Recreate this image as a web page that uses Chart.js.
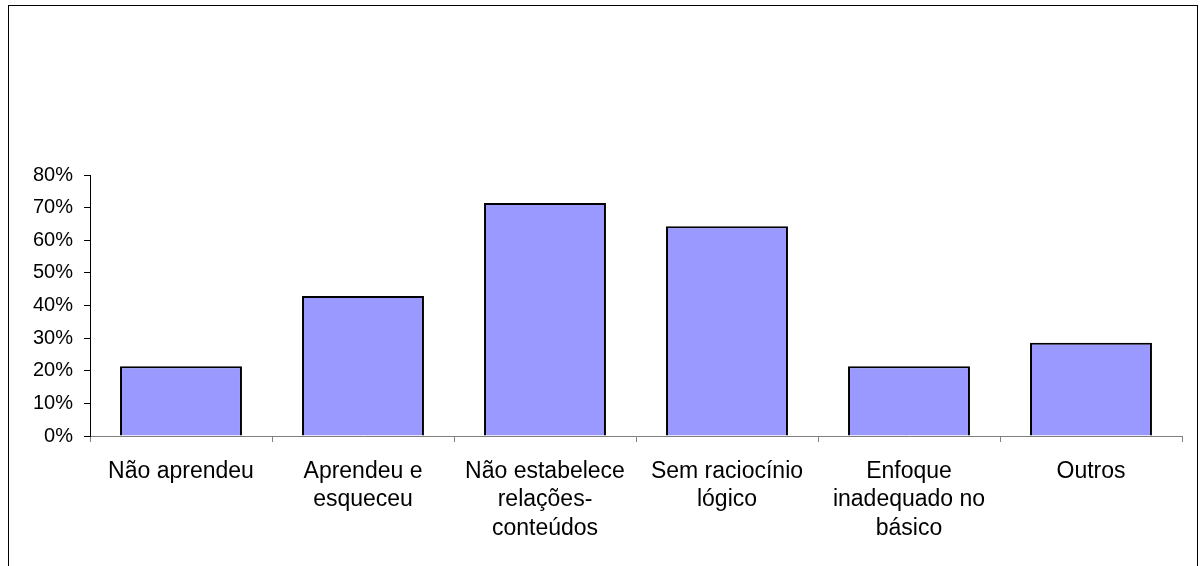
<!DOCTYPE html>
<html>
<head>
<meta charset="utf-8">
<script src="https://cdn.jsdelivr.net/npm/chart.js@4/dist/chart.umd.min.js"></script>
<style>
  html, body { margin: 0; padding: 0; background: #fff; }
  .wrap { position: relative; width: 1202px; height: 566px; overflow: hidden; }
  .frame { position: absolute; left: 8px; top: 5px; width: 1190px; height: 600px;
           border: 1px solid #000; box-sizing: border-box; }
  canvas { position: absolute; left: 0; top: 0; }
</style>
</head>
<body>
<div class="wrap">
  <div class="frame"></div>
  <canvas id="chart" width="1202" height="566"></canvas>
</div>
<script>
// categories and values
const categories = [
  "Não aprendeu",
  ["Aprendeu e", "esqueceu"],
  ["Não estabelece", "relações-", "conteúdos"],
  ["Sem raciocínio", "lógico"],
  ["Enfoque", "inadequado no", "básico"],
  "Outros"
];
const values = [0.214, 0.429, 0.714, 0.643, 0.214, 0.286];
const yMax = 0.8;
const yStep = 0.1;

const font = "'Liberation Sans', Arial, sans-serif";

const ctx = document.getElementById("chart").getContext("2d");
new Chart(ctx, {
  type: "bar",
  data: {
    labels: categories,
    datasets: [{
      data: values,
      backgroundColor: "#9999FF",
      borderColor: "#000000",
      borderWidth: 2,
      barPercentage: 0.67,
      categoryPercentage: 1
    }]
  },
  options: {
    responsive: false,
    animation: false,
    layout: { padding: { left: 0, top: 175, right: 20, bottom: 0 } },
    plugins: { legend: { display: false }, tooltip: { enabled: false } },
    scales: {
      x: {
        afterFit: (scale) => { scale.height = 130; },
        grid: { drawOnChartArea: false, tickLength: 6, color: "#808080", offset: true },
        border: { color: "#808080", width: 1 },
        ticks: {
          color: "#000", padding: 15, maxRotation: 0, autoSkip: false,
          font: { family: font, size: 23, lineHeight: 1.24 }
        }
      },
      y: {
        min: 0, max: yMax,
        afterFit: (scale) => { scale.width = 90; },
        grid: { drawOnChartArea: false, tickLength: 6, color: "#000" },
        border: { color: "#000", width: 1 },
        ticks: {
          stepSize: yStep, color: "#000", padding: 11,
          font: { family: font, size: 20 },
          callback: (v) => Math.round(v * 100) + "%"
        }
      }
    }
  }
});
</script>
</body>
</html>
